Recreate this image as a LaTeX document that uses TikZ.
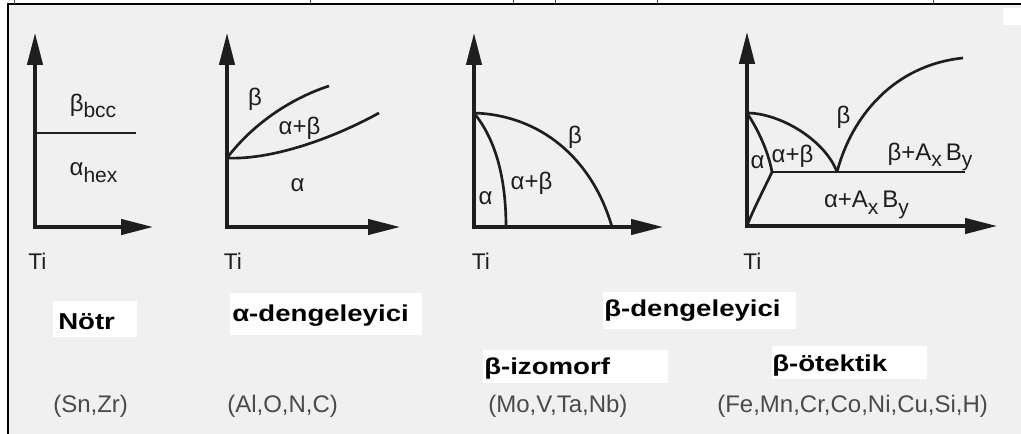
\documentclass[tikz,border=0pt]{standalone}
\usepackage{fontspec}
\setmainfont{Liberation Sans}
\newfontfamily\labfont{Liberation Sans}[UprightFont=* Bold, FakeStretch=1.2]
\usetikzlibrary{arrows.meta}
\definecolor{panel}{HTML}{F0F0F0}
\definecolor{ink}{HTML}{1E1E1E}
\definecolor{grayink}{HTML}{4A4A4A}
\newcommand\lsub[1]{\raisebox{-0.28em}{\fontsize{15.75}{16}\selectfont #1}}
\begin{document}
\begin{tikzpicture}[x=0.75pt,y=-0.75pt,
  axis/.style={draw=ink, line width=2.5pt, line join=miter,
    arrows={Triangle[length=24pt,width=11.5pt]-Triangle[length=24pt,width=11.5pt]}},
  phase/.style={draw=ink, line width=2pt},
  dlab/.style={text=ink, font=\fontsize{18}{18}\selectfont, inner sep=0pt},
  ti/.style={text=ink, font=\fontsize{17}{17}\selectfont, inner sep=0pt},
  blab/.style={text=black, font=\labfont\fontsize{17.25}{17.25}\selectfont, inner sep=0pt, anchor=base west},
  wbox/.style={fill=white, draw=none},
  elem/.style={text=grayink, font=\fontsize{18}{18}\selectfont, inner sep=0pt, anchor=base west},
  frame/.style={draw=black, line width=1.5pt}
]
\useasboundingbox (0,0) rectangle (1021,434);
\fill[white] (0,0) rectangle (1021,434);
\fill[panel] (8,5) rectangle (1021,434);
\fill[white] (1003,8) rectangle (1021,25);
% frame
\coordinate (fa) at (7.5,434);
\coordinate (fb) at (7.5,4.5);
\coordinate (fc) at (1021,4.5);
\draw[frame] (fa) -- (fb) -- (fc);
\foreach \tx in {14,310,513,555,657,933}{
  \draw[black!70, line width=0.5pt] (\tx,0.5) -- (\tx,4.5);
}

% ---------- Diagram 1: neutral ----------
\coordinate (o1) at (35,227);
\coordinate (y1) at (35,33);
\coordinate (x1) at (153,227);
\draw[axis] (x1) -- (o1) -- (y1);
\coordinate (h1a) at (35,133);
\coordinate (h1b) at (136,133);
\draw[phase] (h1a) -- (h1b);
\node[dlab] (b1) at (93,106) {β\lsub{bcc}};
\node[dlab] (a1) at (93.5,172.5) {α\lsub{hex}};
\node[ti] (ti1) at (37.5,261.5) {Ti};

% ---------- Diagram 2: alpha stabiliser ----------
\coordinate (o2) at (227,227);
\coordinate (y2) at (227,33);
\coordinate (x2) at (400,227);
\draw[axis] (x2) -- (o2) -- (y2);
\coordinate (s2) at (227,158);
\coordinate (u2) at (329,86);
\coordinate (l2) at (379,113);
\draw[phase] (s2) .. controls (255,121) and (295,97) .. (u2);
\draw[phase] (s2) .. controls (270,160) and (330,140) .. (l2);
\node[dlab] (b2) at (255,99) {β};
\node[dlab] (ab2) at (299.5,128.5) {α+β};
\node[dlab] (a2) at (297.5,185.5) {α};
\node[ti] (ti2) at (233,261.5) {Ti};

% ---------- Diagram 3: beta isomorphous ----------
\coordinate (o3) at (474,227);
\coordinate (y3) at (474,33);
\coordinate (x3) at (663,227);
\draw[axis] (x3) -- (o3) -- (y3);
\coordinate (t3) at (474,113);
\coordinate (e3) at (612,227);
\coordinate (f3) at (506,227);
\draw[phase] (t3) .. controls (540,115) and (592,158) .. (e3);
\draw[phase] (t3) .. controls (492,135) and (506,170) .. (f3);
\node[dlab] (b3) at (575,137) {β};
\node[dlab] (ab3) at (531.5,183.5) {α+β};
\node[dlab] (a3) at (485.5,198) {α};
\node[ti] (ti3) at (481,261.5) {Ti};

% ---------- Diagram 4: beta eutectoid ----------
\coordinate (o4) at (747,226);
\coordinate (y4) at (747,32);
\coordinate (x4) at (997,226);
\draw[axis] (x4) -- (o4) -- (y4);
\coordinate (t4) at (747,113);
\coordinate (p4) at (772,172);
\coordinate (e4) at (837,172);
\coordinate (r4) at (965,172);
\coordinate (u4) at (963,58);
\draw[phase] (t4) .. controls (780,113) and (825,140) .. (e4);
\draw[phase] (e4) .. controls (852,115) and (895,65) .. (u4);
\draw[phase] (p4) -- (r4);
\draw[phase] (t4) .. controls (757,128) and (768,150) .. (p4)
  .. controls (765,187) and (752,212) .. (o4);
\node[dlab] (b4) at (843.5,117) {β};
\node[dlab] (ab4) at (792.5,156.5) {α+β};
\node[dlab] (a4) at (757.5,162) {α};
\node[dlab] (bab4) at (930,157) {β+A\lsub{x}\,B\lsub{y}};
\node[dlab] (aab4) at (866.5,205) {α+A\lsub{x}\,B\lsub{y}};
\node[ti] (ti4) at (752.5,261.5) {Ti};

% ---------- bottom labels ----------
\fill[white] (53,301) rectangle (137,337);
\fill[white] (230,293) rectangle (422,335);
\fill[white] (603,292) rectangle (796,329);
\fill[white] (483,350) rectangle (668,383);
\fill[white] (772,346) rectangle (927,379);
\node[blab] (n1) at (58,330) {Nötr};
\node[blab] (n2) at (232,322) {α-dengeleyici};
\node[blab] (n3) at (604,317) {β-dengeleyici};
\node[blab] (n4) at (484,375) {β-izomorf};
\node[blab] (n5) at (772,372) {β-ötektik};

\node[elem] (m1) at (53,413) {(Sn,Zr)};
\node[elem] (m2) at (227,413) {(Al,O,N,C)};
\node[elem] (m3) at (488,413) {(Mo,V,Ta,Nb)};
\node[elem] (m4) at (717,413) {(Fe,Mn,Cr,Co,Ni,Cu,Si,H)};
\end{tikzpicture}
\end{document}
